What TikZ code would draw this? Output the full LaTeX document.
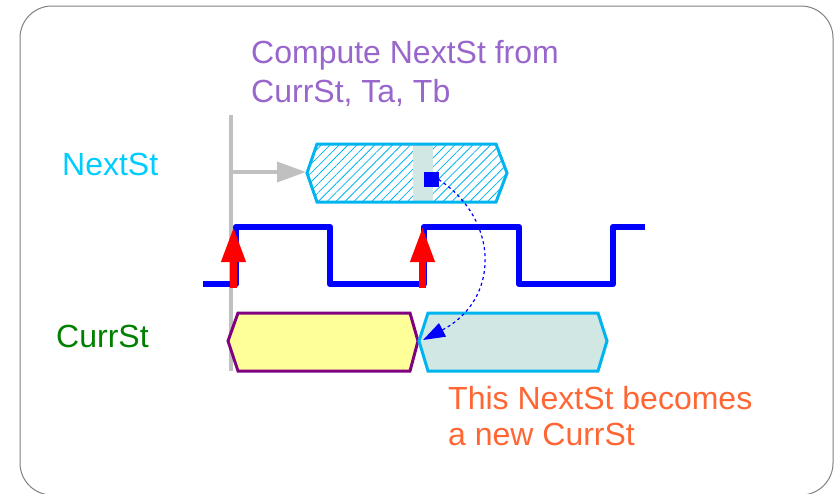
\documentclass[tikz,border=0pt]{standalone}
\usepackage{fontspec}
\setmainfont{Liberation Sans}
\usetikzlibrary{arrows.meta,patterns.meta}
\definecolor{frameg}{RGB}{128,128,128}
\definecolor{guidegray}{RGB}{192,192,192}
\definecolor{purpletxt}{RGB}{153,102,204}
\definecolor{cyantxt}{RGB}{0,204,255}
\definecolor{greentxt}{RGB}{0,128,0}
\definecolor{orangetxt}{RGB}{255,102,51}
\definecolor{hexcyan}{RGB}{0,180,240}
\definecolor{tealfill}{RGB}{208,231,228}
\definecolor{yellowfill}{RGB}{255,255,153}
\definecolor{hexpurple}{RGB}{128,0,128}
\begin{document}
\begin{tikzpicture}[x=1pt,y=-1pt,
  lbl/.style={anchor=base west,inner sep=0pt,font=\fontsize{32}{38}\selectfont},
  guide/.style={guidegray,line width=4pt},
  guidearrow/.style={guidegray,line width=3.5pt,-{Triangle[length=29pt,width=20pt]}},
  clk/.style={blue,line width=6.5pt,line join=round},
  edgearr/.style={red,line width=7pt,-{Triangle[length=35pt,width=23pt]}},
  hexborder/.style={line width=3pt,line join=miter},
  curve/.style={blue,line width=1.2pt,dash pattern=on 3pt off 3pt,-{Triangle[length=22pt,width=15pt]}}
]
\useasboundingbox (0,0) rectangle (835,493);
\draw[frameg,line width=1pt,rounded corners=32pt] (20,6) rectangle (833,495);

% texts
\node[lbl,text=purpletxt] (c1) at (251,63) {Compute NextSt from};
\node[lbl,text=purpletxt] (c2) at (251,102) {CurrSt, Ta, Tb};
\node[lbl,text=cyantxt] (nl) at (62,175) {NextSt};
\node[lbl,text=greentxt] (cl) at (56,347) {CurrSt};
\node[lbl,text=orangetxt] (o1) at (448,409) {This NextSt becomes};
\node[lbl,text=orangetxt] (o2) at (448,445) {a new CurrSt};

% guide line and arrow
\coordinate (gtop) at (231,115);
\coordinate (gbot) at (231,371);
\coordinate (gmid) at (231,172);
\coordinate (nsL) at (306,172);
\draw[guide] (gtop) -- (gbot);
\draw[guidearrow] (gmid) -- (nsL);

% NextSt hexagon (hatched)
\path[pattern={Lines[angle=45,distance=6.3pt,line width=0.8pt]},pattern color=hexcyan]
  (307,173) -- (317,144) -- (496,144) -- (507,173) -- (496,202) -- (317,202) -- cycle;
\fill[tealfill] (413,144) rectangle (433,202);
\draw[hexcyan,hexborder]
  (307,173) -- (317,144) -- (496,144) -- (507,173) -- (496,202) -- (317,202) -- cycle;
\node[fill=blue,inner sep=0pt,minimum size=15pt] (sq) at (431,179.5) {};

% clock
\draw[clk] (203,284) -- (236,284) -- (236,227) -- (330,227) -- (330,284) -- (424,284)
  -- (424,227) -- (519,227) -- (519,284) -- (613,284) -- (613,227) -- (645,227);

% red edge arrows
\coordinate (r1b) at (233.5,288);
\coordinate (r1t) at (233.5,227);
\coordinate (r2b) at (422.5,288);
\coordinate (r2t) at (422.5,227);
\draw[edgearr] (r1b) -- (r1t);
\draw[edgearr] (r2b) -- (r2t);

% CurrSt hexagons
\draw[hexpurple,fill=yellowfill,hexborder]
  (228,341) -- (238,313) -- (410,313) -- (418,341) -- (410,371) -- (238,371) -- cycle;
\draw[hexcyan,fill=tealfill,hexborder]
  (419,341) -- (428,313) -- (598,313) -- (607,341) -- (598,371) -- (428,371) -- cycle;
\coordinate (newL) at (423,340);

% dotted curve
\draw[curve] (sq.east) .. controls (500,220) and (500,300) .. (newL);
\end{tikzpicture}
\end{document}
